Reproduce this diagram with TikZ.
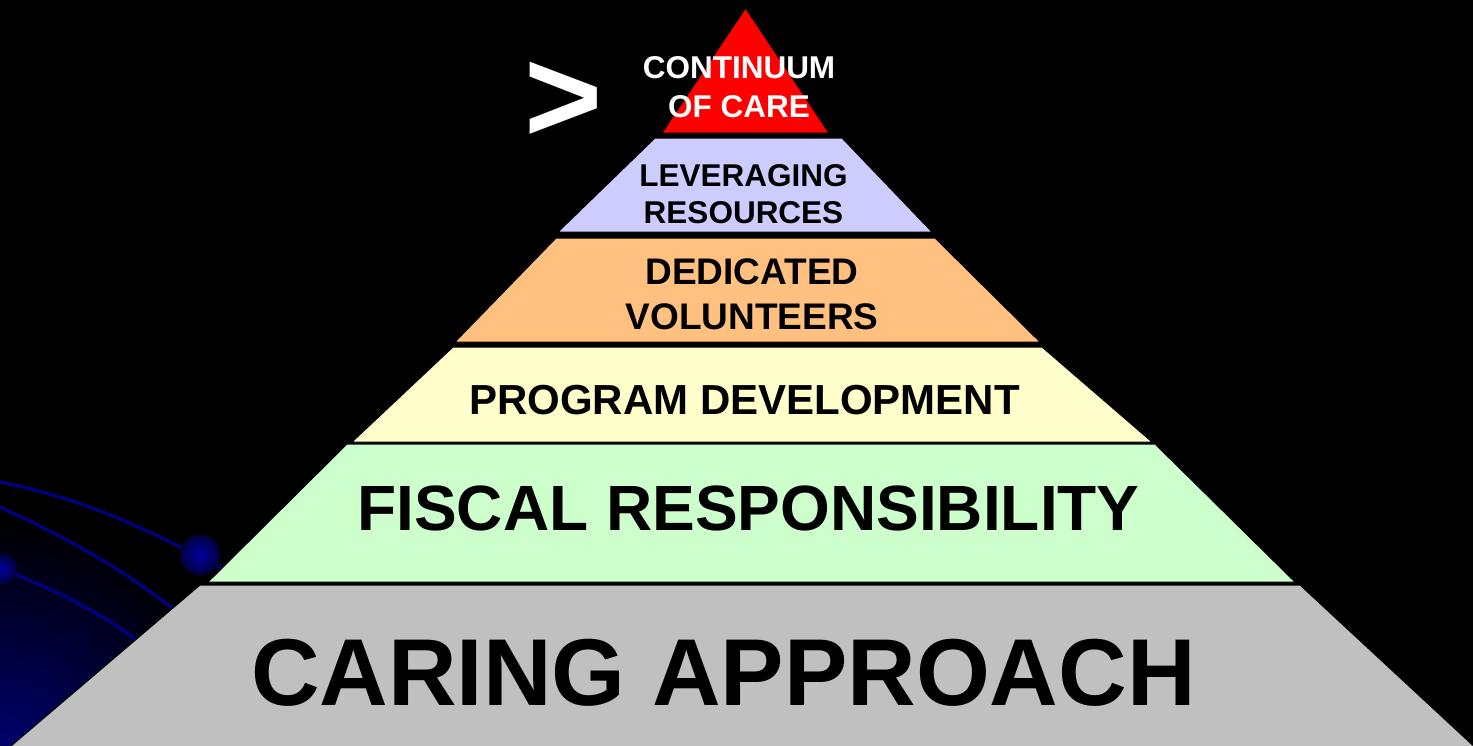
\documentclass[tikz,border=0pt]{standalone}
\usepackage{fontspec}
\setmainfont{Liberation Sans}
\definecolor{topred}{RGB}{255,0,0}
\definecolor{levblue}{RGB}{204,204,255}
\definecolor{dedorange}{RGB}{255,192,128}
\definecolor{progyellow}{RGB}{255,255,204}
\definecolor{fiscgreen}{RGB}{204,255,204}
\definecolor{cargray}{RGB}{192,192,192}
\definecolor{glow}{RGB}{0,0,115}
\definecolor{swirlblue}{RGB}{0,0,130}
\definecolor{ballin}{RGB}{0,0,160}
\definecolor{ballout}{RGB}{0,0,60}

\begin{document}
\begin{tikzpicture}[x=1pt,y=-1pt,
  layer/.style={draw=black,line width=1pt},
  swirl/.style={draw=swirlblue,line width=3.2pt},
  ball/.style={inner color=ballin,outer color=ballout},
  lbl/.style 2 args={inner sep=0pt,align=center,font=\bfseries\fontsize{#1}{#2}\selectfont}]
        \fill[black] (0,0) rectangle (1473,745);
        \useasboundingbox (0,0) rectangle (1473,745);
        \begin{scope}
          \clip (0,0) rectangle (1473,745);
          \shade[inner color=glow,outer color=black] (0,760) circle[radius=240pt];
          \draw[swirl] (0,482) .. controls (80,498) and (140,525) .. (225,570);
          \draw[swirl] (0,507) .. controls (60,535) and (120,565) .. (190,622);
          \draw[swirl] (2,569) .. controls (50,588) and (100,610) .. (152,652);
          \shade[ball] (200,555) circle[radius=20pt];
          \shade[ball] (2,569) circle[radius=15pt];
        \end{scope}

        \filldraw[layer,fill=topred] (745.5,8) -- (829,133) -- (662,133) -- cycle;
        \filldraw[layer,fill=levblue] (655,138) -- (842,138) -- (932,232) -- (558,232) -- cycle;
        \filldraw[layer,fill=dedorange] (556,238) -- (935,238) -- (1040,342) -- (455,342) -- cycle;
        \filldraw[layer,fill=progyellow] (453,347) -- (1042,347) -- (1152,442) -- (352,442) -- cycle;
        \filldraw[layer,fill=fiscgreen] (347,444) -- (1155,444) -- (1295,582) -- (208,582) -- cycle;
        \filldraw[layer,fill=cargray] (200,585) -- (1300,585) -- (1480,752) -- (4,752) -- cycle;

        \node[lbl={134}{150},text=white,anchor=base] (gt) at (564,142) {>};
        \node[lbl={31.5}{39},text=white] (cont) at (739,87.5) {CONTINUUM\\OF CARE};
        \node[lbl={31.5}{37}] (lev) at (743.5,194) {LEVERAGING\\RESOURCES};
        \node[lbl={37}{45}] (ded) at (752,294) {DEDICATED\\VOLUNTEERS};
        \node[lbl={42}{50},anchor=base] (prog) at (744.5,414) {PROGRAM DEVELOPMENT};
        \node[lbl={64}{76},anchor=base] (fisc) at (748.5,530) {FISCAL RESPONSIBILITY};
        \node[lbl={95}{110},anchor=base] (care) at (723.5,705) {CARING APPROACH};
\end{tikzpicture}
\end{document}
